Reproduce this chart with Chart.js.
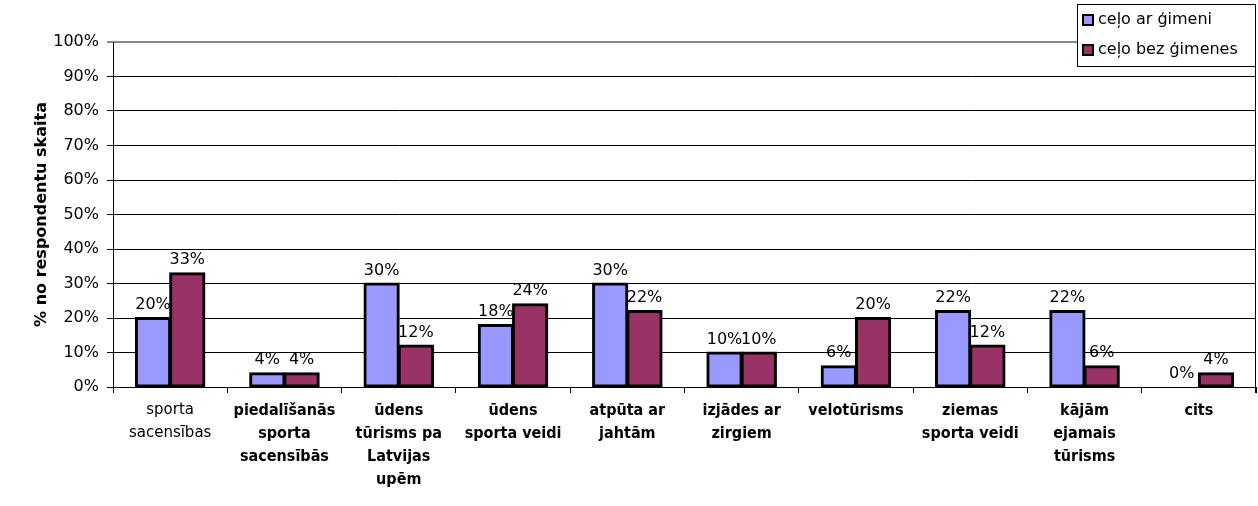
<!DOCTYPE html>
<html>
<head>
<meta charset="utf-8">
<script src="https://cdn.jsdelivr.net/npm/chart.js@4/dist/chart.umd.min.js"></script>
<style>
  html, body { margin: 0; padding: 0; background: #fff; }
  #wrap { position: relative; width: 1258px; height: 506px; }
</style>
</head>
<body>
<div id="wrap"><canvas id="bar-chart"></canvas></div>
<script>
var categories = [
  ["sporta", "sacensības"],
  ["piedalīšanās", "sporta", "sacensībās"],
  ["ūdens", "tūrisms pa", "Latvijas", "upēm"],
  ["ūdens", "sporta veidi"],
  ["atpūta ar", "jahtām"],
  ["izjādes ar", "zirgiem"],
  ["velotūrisms"],
  ["ziemas", "sporta veidi"],
  ["kājām", "ejamais", "tūrisms"],
  ["cits"]
];
var arGimeni = [20, 4, 30, 18, 30, 10, 6, 22, 22, 0];
var bezGimenes = [33, 4, 12, 24, 22, 10, 20, 12, 6, 4];
var seriesNames = ["ceļo ar ģimeni", "ceļo bez ģimenes"];
var yTicks = [0, 10, 20, 30, 40, 50, 60, 70, 80, 90, 100];
var yTitle = "% no respondentu skaita";

document.addEventListener("DOMContentLoaded", function() {
  var ctx = document.getElementById("bar-chart").getContext("2d");

  // value labels above bars
  var valueLabels = {
    id: "valueLabels",
    afterDatasetsDraw: function(chart) {
      var c = chart.ctx;
      c.save();
      c.font = "16px 'DejaVu Sans'";
      c.fillStyle = "#000";
      c.textAlign = "center";
      c.textBaseline = "bottom";
      chart.data.datasets.forEach(function(ds, di) {
        chart.getDatasetMeta(di).data.forEach(function(bar, i) {
          c.fillText(ds.data[i] + "%", bar.x, bar.y - 5);
        });
      });
      c.restore();
    }
  };

  // right border + legend box drawn over the plot
  var frameAndLegend = {
    id: "frameAndLegend",
    afterDraw: function(chart) {
      var c = chart.ctx;
      var a = chart.chartArea;
      c.save();
      c.strokeStyle = "#000";
      c.lineWidth = 1;
      c.beginPath();
      c.moveTo(a.right - 0.5, a.top);
      c.lineTo(a.right - 0.5, a.bottom + 6);
      c.stroke();

      var bx = 1077, by = 4, bw = 178, bh = 62;
      c.fillStyle = "#fff";
      c.fillRect(bx, by, bw, bh);
      c.strokeRect(bx + 0.5, by + 0.5, bw, bh);
      c.font = "16px 'DejaVu Sans'";
      c.textAlign = "left";
      c.textBaseline = "middle";
      chart.data.datasets.forEach(function(ds, i) {
        var yy = by + 16 + i * 30;
        c.fillStyle = ds.backgroundColor;
        c.fillRect(bx + 6, yy - 5, 10, 10);
        c.lineWidth = 2;
        c.strokeStyle = "#000";
        c.strokeRect(bx + 6, yy - 5, 10, 10);
        c.fillStyle = "#000";
        c.fillText(ds.label, bx + 21, yy);
      });
      c.restore();
    }
  };

  var barChartData = {
    labels: categories,
    datasets: [
      {
        label: seriesNames[0],
        data: arGimeni,
        backgroundColor: "#9999FF",
        borderColor: "#000",
        borderWidth: 3,
        borderSkipped: false,
        inflateAmount: 1
      },
      {
        label: seriesNames[1],
        data: bezGimenes,
        backgroundColor: "#993366",
        borderColor: "#000",
        borderWidth: 3,
        borderSkipped: false,
        inflateAmount: 1
      }
    ]
  };

  var barChartOptions = {
    responsive: true,
    maintainAspectRatio: false,
    animation: false,
    layout: { padding: { top: 42, right: 2, left: 0, bottom: 0 } },
    categoryPercentage: 0.6,
    barPercentage: 1,
    plugins: {
      legend: { display: false },
      tooltip: { enabled: false }
    },
    scales: {
      x: {
        offset: true,
        grid: { drawOnChartArea: false, drawTicks: true, tickLength: 6, color: "#000", offset: true },
        border: { color: "#000", width: 1 },
        ticks: {
          color: "#000",
          maxRotation: 0,
          autoSkip: false,
          padding: 6,
          font: function(c) {
            if (c.index === 0) {
              return { family: "'DejaVu Sans'", size: 15, weight: "normal", lineHeight: 1.5 };
            }
            return { family: "'Liberation Sans Narrow', 'DejaVu Sans Condensed', sans-serif", size: 16, weight: "bold", lineHeight: 1.45 };
          }
        },
        afterFit: function(scale) { scale.height = 119; }
      },
      y: {
        min: 0,
        max: 100,
        afterBuildTicks: function(scale) {
          scale.ticks = yTicks.map(function(v) { return { value: v }; });
        },
        grid: {
          color: function(c) { return c.tick && c.tick.value === 100 ? "#888" : "#000"; },
          lineWidth: function(c) { return c.tick && c.tick.value === 100 ? 2 : 1; },
          tickLength: 6
        },
        border: { color: "#000", width: 1 },
        ticks: {
          color: "#000",
          padding: 8,
          font: { family: "'DejaVu Sans'", size: 16 },
          callback: function(v) { return v + "%"; }
        },
        title: {
          display: true,
          text: yTitle,
          color: "#000",
          font: { family: "'DejaVu Sans'", size: 16, weight: "bold" },
          padding: { top: 32, bottom: 0 }
        },
        afterFit: function(scale) { scale.width = 113; }
      }
    }
  };

  new Chart(ctx, {
    type: "bar",
    data: barChartData,
    options: barChartOptions,
    plugins: [valueLabels, frameAndLegend]
  });
});
</script>
</body>
</html>
